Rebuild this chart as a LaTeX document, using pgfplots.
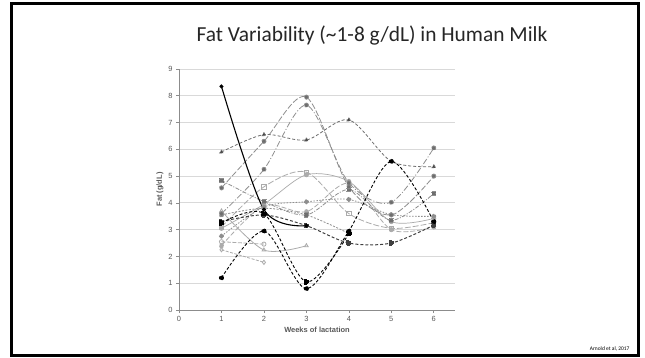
\documentclass[border=0pt]{standalone}
\usepackage{pgfplots}
\pgfplotsset{compat=1.18}
\usepackage{fontspec}
\setmainfont{Carlito}
\newfontfamily\chartfont{Liberation Sans}
\definecolor{gridc}{HTML}{D9D9D9}
\definecolor{axc}{HTML}{8C8C8C}
\definecolor{txt}{HTML}{595959}
\definecolor{g1}{HTML}{404040}
\definecolor{g2}{HTML}{6E6E6E}
\definecolor{g3}{HTML}{8E8E8E}
\definecolor{g4}{HTML}{ABABAB}
\begin{document}
\begin{tikzpicture}[x=1bp,y=1bp]
\useasboundingbox (0,0) rectangle (645,357);
\fill[white] (0,0) rectangle (645,357);
\draw[black,line width=3.4bp] (11.7,1.7) rectangle (638.3,353.5);
\node[font=\fontsize{21.5}{24}\selectfont, color=black!85] at (372,321) {Fat Variability (\textasciitilde1-8 g/dL) in Human Milk};
\node[font=\fontsize{5.5}{6}\selectfont, anchor=east] at (633,8) {Arnold et al, 2017};
\begin{axis}[
  at={(179bp,47bp)}, anchor=south west,
  scale only axis, width=276bp, height=241bp,
  xmin=0, xmax=6.5, ymin=0, ymax=9,
  axis lines=left, axis line style={axc, line width=0.8pt, -},
  xtick={0,1,...,6}, ytick={0,1,...,9},
  tick style={axc, line width=0.6pt}, tick align=outside,
  major tick length=3bp,
  ymajorgrids, grid style={gridc, line width=0.8pt},
  ticklabel style={font=\chartfont\fontsize{7.5}{8}\selectfont, color=txt},
  /pgf/number format/assume math mode=true,
  xlabel={\bfseries Weeks of lactation}, ylabel={\bfseries Fat (g/dL)},
  label style={font=\chartfont\fontsize{7.5}{8}\selectfont, color=txt},
  xlabel style={yshift=2bp}, ylabel style={yshift=-2bp},
  every axis plot/.append style={smooth, line width=0.8pt, mark size=2.1bp, mark options={solid}},
  clip=false,
]
% light series first
\addplot[g4, dash pattern=on 4pt off 1.5pt, mark=o] coordinates {(1,2.55)(2,2.46)};
\addplot[g4, mark=triangle] coordinates {(1,3.7)(2,2.24)(3,2.4)};
\addplot[g4, dash pattern=on 3pt off 1.5pt, mark=diamond] coordinates {(1,2.25)(2,1.78)};
\addplot[g4, dash pattern=on 5pt off 2pt, mark=*, mark options={fill=g4}] coordinates {(1,2.4)(2,3.9)(3,3.67)(4,4.73)(5,3.0)(6,3.1)};
\addplot[g4, line width=0.7pt, mark=*, mark options={fill=g4}] coordinates {(1,3.05)(2,3.95)(3,5.05)(4,4.8)(5,3.3)(6,3.42)};
\addplot[g4, dash pattern=on 6pt off 2pt, mark=square] coordinates {(1,3.1)(2,4.6)(3,5.15)(4,3.6)(5,3.05)(6,3.26)};
\addplot[g3, dash pattern=on 1.5pt off 1.5pt, mark=*, mark options={fill=g3}] coordinates {(1,2.76)(2,3.85)(3,4.04)(4,4.13)(5,3.56)(6,3.5)};
\addplot[g3, dash pattern=on 2pt off 1.5pt, mark=*, mark options={fill=g3}] coordinates {(1,3.55)(2,3.8)(3,3.55)(4,2.86)};
\addplot[g3, dash pattern=on 4pt off 1.5pt on 1pt off 1.5pt, mark=square*, mark options={fill=g2}] coordinates {(1,4.84)(2,4.05)(3,3.55)(4,4.5)(5,3.35)(6,4.35)};
\addplot[g3, dash pattern=on 6pt off 2pt, mark=*, mark options={fill=g2}] coordinates {(1,4.56)(2,6.3)(3,7.95)(4,4.6)(5,3.55)(6,5.0)};
\addplot[g3, dash pattern=on 6pt off 2pt on 1pt off 2pt, mark=*, mark options={fill=g2}] coordinates {(1,3.6)(2,5.25)(3,7.65)(4,4.75)(5,4.02)(6,6.05)};
\addplot[g2, dash pattern=on 3pt off 2pt, mark=triangle*, mark options={fill=g1}] coordinates {(1,5.9)(2,6.55)(3,6.35)(4,7.1)(5,5.55)(6,5.35)};
% dark series
\addplot[g1, dash pattern=on 3pt off 2pt, line width=1pt, mark=square*, mark options={fill=g1}] coordinates {(1,3.3)(2,3.55)(3,3.15)(4,2.5)(5,2.5)(6,3.17)};
\addplot[black, dash pattern=on 3pt off 2pt, line width=0.9pt, mark=square*, mark options={fill=black}] coordinates {(1,3.25)(2,3.6)(3,1.05)(4,2.85)};
\addplot[black, dash pattern=on 3pt off 2pt, line width=0.9pt, mark=*, mark options={fill=black}] coordinates {(1,1.2)(2,2.95)(3,0.8)(4,2.95)(5,5.55)(6,3.3)};
\addplot[black, line width=1.1pt, mark=*, mark size=1.4bp] coordinates {(1,8.35)(2,3.75)(3,3.15)};
\end{axis}
\end{tikzpicture}
\end{document}
